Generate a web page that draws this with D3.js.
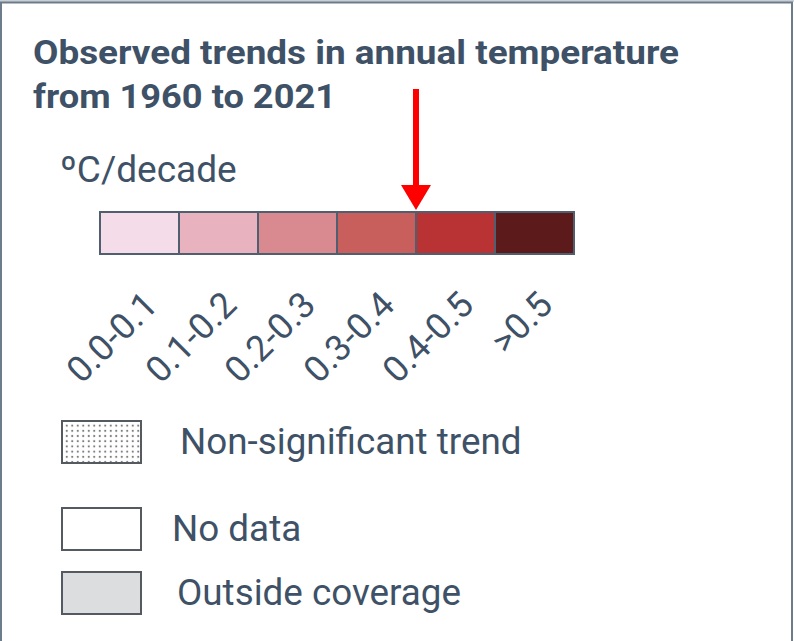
<!DOCTYPE html>
<html><head><meta charset="utf-8">
<script src="https://cdn.jsdelivr.net/npm/d3@7"></script>
<style>html,body{margin:0;padding:0;background:#fff;overflow:hidden}</style>
</head><body>
<script>
const titleLines = ["Observed trends in annual temperature", "from 1960 to 2021"];
const unitLabel = "ºC/decade";
const binLabels = ["0.0-0.1", "0.1-0.2", "0.2-0.3", "0.3-0.4", "0.4-0.5", ">0.5"];
const binColors = ["#f5dce9", "#e8b2bf", "#d98a91", "#c85f5c", "#b93334", "#5c1b1a"];
const highlightBin = "0.4-0.5";
const extraLabels = ["Non-significant trend", "No data", "Outside coverage"];
const extraFills = ["url(#dots)", "#ffffff", "#dcdddf"];

const W = 794, H = 641;
const ink = "#3e5166";
const svg = d3.select("body").append("svg").attr("width", W).attr("height", H);

const defs = svg.append("defs");
const pat = defs.append("pattern").attr("id", "dots").attr("patternUnits", "userSpaceOnUse")
  .attr("width", 5.5).attr("height", 5.2).attr("x", 64).attr("y", 423);
pat.append("rect").attr("width", 5.5).attr("height", 5.2).attr("fill", "#fff");
pat.append("circle").attr("cx", 2.75).attr("cy", 2.6).attr("r", 1.05).attr("fill", "#7a7a7a");

// frame
svg.append("rect").attr("x", 0).attr("y", 0).attr("width", W).attr("height", 2).attr("fill", "#c8ced5");
svg.append("path").attr("d", `M1,${H} V2.5 H792 V${H}`).attr("fill", "none")
  .attr("stroke", "#6d7c8b").attr("stroke-width", 2);

// title
const titleWidths = [646, 303];
svg.selectAll("text.title").data(titleLines).join("text").attr("class", "title")
  .attr("x", 33).attr("y", (d, i) => 64 + i * 44)
  .attr("font-family", "Roboto").attr("font-weight", 700).attr("font-size", 34)
  .attr("fill", ink)
  .attr("textLength", (d, i) => titleWidths[i]).attr("lengthAdjust", "spacingAndGlyphs")
  .text(d => d);

svg.append("text").attr("x", 60).attr("y", 182)
  .attr("font-family", "Roboto").attr("font-size", 37).attr("fill", ink).text(unitLabel);

// color bar
const x = d3.scaleBand().domain(binLabels).range([100, 574]).padding(0);
const barY = 212, barH = 42;
svg.selectAll("rect.bin").data(binLabels).join("rect").attr("class", "bin")
  .attr("x", d => x(d)).attr("y", barY).attr("width", x.bandwidth()).attr("height", barH)
  .attr("fill", (d, i) => binColors[i]).attr("stroke", "#4f5f70").attr("stroke-width", 2);

// rotated labels
svg.selectAll("text.bin").data(binLabels).join("text").attr("class", "bin")
  .attr("transform", d => `translate(${x(d) + x.bandwidth() / 2 + 20},${307}) rotate(-45)`)
  .attr("text-anchor", "end")
  .attr("font-family", "Roboto").attr("font-size", 36).attr("fill", ink)
  .text(d => d);

// arrow pointing at boundary of highlighted bin
const ax = x(highlightBin);
svg.append("rect").attr("x", ax - 3).attr("y", 89).attr("width", 6).attr("height", 98).attr("fill", "#ff0000");
svg.append("path").attr("d", `M${ax - 15},185 L${ax + 15},185 L${ax},210 Z`).attr("fill", "#ff0000");

// extra legend items
const boxY = [421, 508, 572];
const textX = [180, 172, 177];
const g = svg.selectAll("g.extra").data(extraLabels).join("g").attr("class", "extra");
g.append("rect").attr("x", 62).attr("y", (d, i) => boxY[i]).attr("width", 79).attr("height", 42)
  .attr("fill", (d, i) => extraFills[i]).attr("stroke", "#555a60").attr("stroke-width", 2);
g.append("text").attr("x", (d, i) => textX[i]).attr("y", (d, i) => boxY[i] + 33)
  .attr("font-family", "Roboto").attr("font-size", 36.8).attr("fill", ink).text(d => d);
</script>
</body></html>
